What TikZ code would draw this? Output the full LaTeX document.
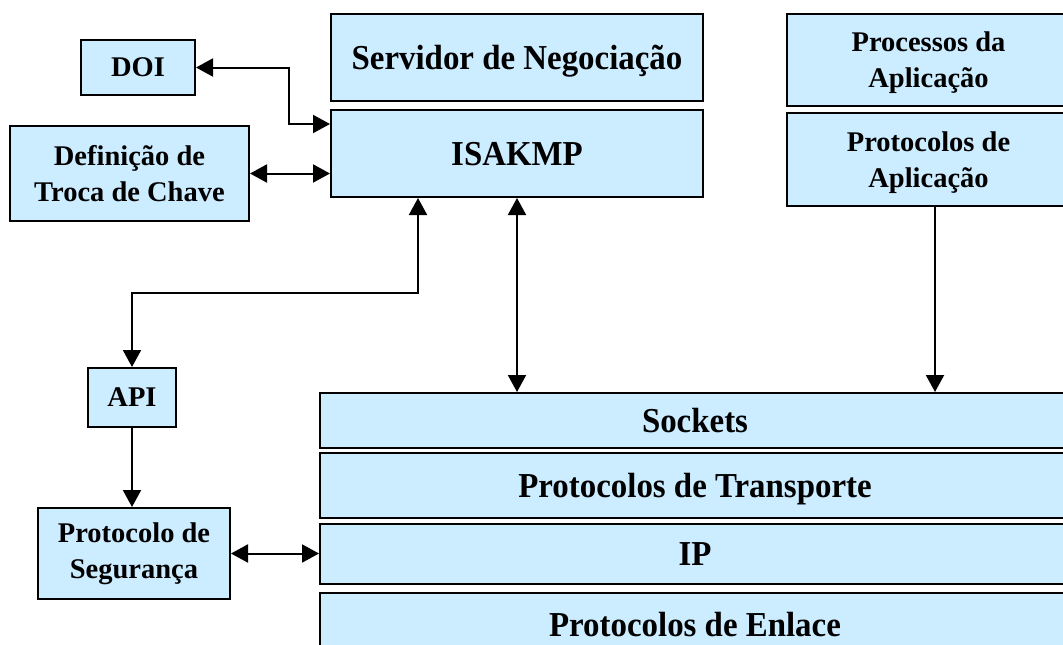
\documentclass[tikz,border=0pt]{standalone}
\usepackage{fontspec}
\setmainfont{Liberation Serif}
\newfontfamily\condfont{Liberation Serif}[FakeStretch=0.94]
\usetikzlibrary{arrows.meta}
\definecolor{boxfill}{RGB}{204,236,255}
\tikzset{
  box/.style={draw=black, line width=2pt, fill=boxfill, inner sep=0pt, align=center,
    text depth=0pt, font=\condfont\bfseries\fontsize{35}{40}\selectfont},
  sbox/.style={draw=black, line width=2pt, fill=boxfill, inner sep=0pt, align=center,
    font=\rmfamily\bfseries\fontsize{28.5}{36}\selectfont},
  conn/.style={line width=2pt, draw=black},
  tip/.tip={Triangle[length=17pt,width=18pt]},
}
\begin{document}
\begin{tikzpicture}[x=1pt,y=-1pt]
\useasboundingbox (0,0) rectangle (1063,645);
% boxes
\node[sbox, minimum width=114pt, minimum height=55pt] (doi) at (138,67.5) {DOI};
\node[sbox, minimum width=239pt, minimum height=95pt] (def) at (129.5,173.5) {Definição de\\Troca de Chave};
\node[box, minimum width=372pt, minimum height=87pt] (serv) at (517,57.5) {Servidor de Negociação};
\node[box, minimum width=372pt, minimum height=87pt] (isakmp) at (517,153.5) {ISAKMP};
\node[sbox, minimum width=283pt, minimum height=92pt, text depth=0pt] (proc) at (928.5,60) {Processos da\\Aplicação};
\node[sbox, minimum width=283pt, minimum height=93pt, text depth=0pt] (papl) at (928.5,159.5) {Protocolos de\\Aplicação};
\node[box, minimum width=750pt, minimum height=55pt] (sock) at (695,420.5) {Sockets};
\node[box, minimum width=750pt, minimum height=65pt] (trans) at (695,485.5) {Protocolos de Transporte};
\node[box, minimum width=750pt, minimum height=60pt] (ip) at (695,554) {IP};
\node[box, minimum width=750pt, minimum height=62pt] (enl) at (695,624) {Protocolos de Enlace};
\node[sbox, minimum width=88pt, minimum height=59pt] (api) at (132,397.5) {API};
\node[sbox, minimum width=192pt, minimum height=91pt] (seg) at (134,553.5) {Protocolo de\\Segurança};
% connectors
\coordinate (d1) at (289,67.5);
\coordinate (k1) at (418,293);
\draw[conn, {tip}-{tip}] (doi.east) -- (d1) |- ([yshift=29.5pt]isakmp.west);
\draw[conn, {tip}-{tip}] (def.east) -- (def.east -| isakmp.west);
\draw[conn, {tip}-{tip}] (api.north) |- (k1) -- (k1 |- isakmp.south);
\draw[conn, {tip}-{tip}] (isakmp.south) -- (isakmp.south |- sock.north);
\draw[conn, -{tip}] ([xshift=6.5pt]papl.south) -- ([xshift=6.5pt]papl.south |- sock.north);
\draw[conn, -{tip}] (api.south) -- (api.south |- seg.north);
\draw[conn, {tip}-{tip}] (seg.east) -- (seg.east -| ip.west);
\end{tikzpicture}
\end{document}
